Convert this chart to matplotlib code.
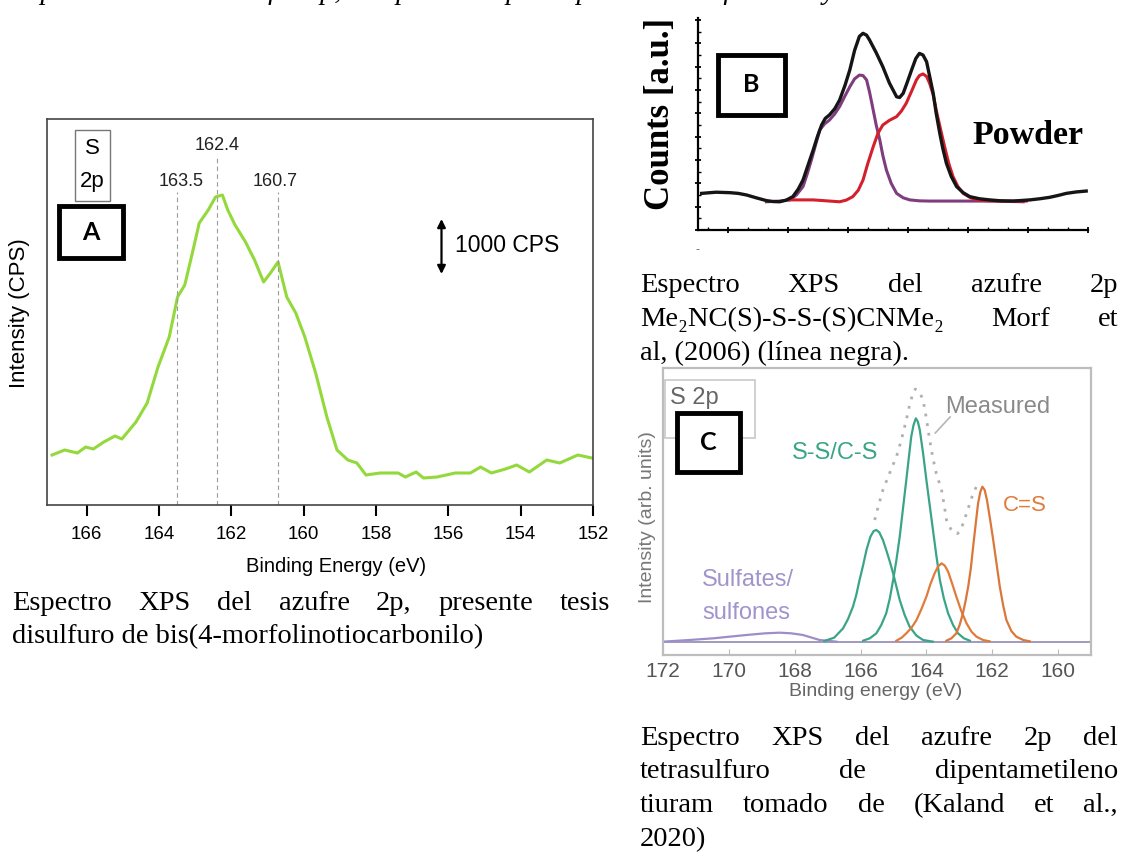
import matplotlib
matplotlib.use('Agg')
import matplotlib.pyplot as plt
from matplotlib.ticker import MultipleLocator
from matplotlib.patches import Rectangle

W, H = 1121, 852
SANS = ['Liberation Sans', 'DejaVu Sans']
SERIF = ['Liberation Serif', 'DejaVu Serif']
LABEL = ['Lato', 'DejaVu Sans']

# ---- panel A : presente tesis (green spectrum) ----
a_energy = [166.96, 166.61, 166.26, 166.03, 165.82, 165.53, 165.22, 165.03, 164.64, 164.33,
            164.03, 163.72, 163.49, 163.29, 163.08, 162.89, 162.64, 162.44, 162.25, 162.10,
            161.90, 161.61, 161.36, 161.11, 160.92, 160.71, 160.47, 160.22, 159.97, 159.67,
            159.36, 159.08, 158.78, 158.53, 158.28, 157.89, 157.39, 157.19, 156.89, 156.69,
            156.31, 155.81, 155.39, 155.11, 154.81, 154.42, 154.11, 153.76, 153.28, 152.92,
            152.42, 152.03]
a_counts = [900, 990, 936, 1044, 1008, 1134, 1242, 1188, 1494, 1836,
            2484, 3024, 3744, 3960, 4536, 5076, 5310, 5544, 5580, 5310,
            5040, 4734, 4410, 4014, 4176, 4374, 3744, 3456, 3024, 2376,
            1584, 990, 810, 756, 540, 576, 576, 504, 594, 486,
            504, 576, 576, 684, 576, 648, 720, 594, 810, 756,
            900, 846]
a_peaks = [163.5, 162.4, 160.7]
a_ticks = [166, 164, 162, 160, 158, 156, 154, 152]

# ---- panel B : Morf et al. 2006 ----
b_x_total = [-0.44, -0.2, 0.03, 0.17, 0.31, 0.47, 0.64, 0.75, 0.86, 0.97, 1.08, 1.17, 1.25, 1.33,
             1.42, 1.49, 1.56, 1.62, 1.69, 1.78, 1.86, 1.95, 2.03, 2.11, 2.19, 2.25, 2.31, 2.36,
             2.47, 2.58, 2.69, 2.81, 2.86, 2.92, 2.99, 3.06, 3.13, 3.19, 3.25, 3.31, 3.36, 3.42,
             3.47, 3.53, 3.58, 3.64, 3.72, 3.81, 3.92, 4.03, 4.19, 4.36, 4.55, 4.75, 5.03, 5.20,
             5.36, 5.50, 5.64, 5.80, 5.97]
b_y_total = [1.57, 1.62, 1.60, 1.57, 1.50, 1.38, 1.26, 1.22, 1.21, 1.28, 1.43, 1.75, 2.14, 2.75,
             3.43, 4.00, 4.50, 4.78, 4.93, 5.20, 5.57, 6.20, 6.86, 7.70, 8.30, 8.43, 8.35, 8.14,
             7.60, 7.00, 6.30, 5.71, 5.68, 5.86, 6.35, 6.86, 7.35, 7.57, 7.50, 7.21, 6.60, 5.86,
             5.00, 4.14, 3.50, 2.86, 2.30, 1.86, 1.60, 1.43, 1.34, 1.29, 1.25, 1.24, 1.29, 1.34,
             1.40, 1.48, 1.57, 1.63, 1.67]
b_x_left = [0.64, 0.86, 1.03, 1.14, 1.25, 1.32, 1.39, 1.46, 1.53, 1.61, 1.69, 1.78, 1.86, 1.94,
            2.03, 2.11, 2.19, 2.25, 2.31, 2.36, 2.42, 2.47, 2.53, 2.58, 2.64, 2.72, 2.81, 2.92,
            3.03, 3.19, 3.36, 3.92, 4.47, 4.92]
b_y_left = [1.21, 1.24, 1.29, 1.50, 1.86, 2.40, 3.00, 3.65, 4.29, 4.55, 4.71, 4.98, 5.29, 5.70,
            6.14, 6.48, 6.64, 6.62, 6.43, 5.90, 5.14, 4.50, 3.86, 3.20, 2.57, 2.00, 1.57, 1.38,
            1.29, 1.25, 1.24, 1.24, 1.24, 1.21]
b_x_right = [1.03, 1.42, 1.86, 1.97, 2.08, 2.17, 2.25, 2.33, 2.42, 2.50, 2.58, 2.69, 2.81, 2.89,
             2.97, 3.06, 3.14, 3.19, 3.25, 3.31, 3.36, 3.42, 3.47, 3.54, 3.61, 3.68, 3.75, 3.83,
             3.92, 4.03, 4.14, 4.30, 4.47, 4.97]
b_y_right = [1.29, 1.29, 1.21, 1.28, 1.43, 1.70, 2.14, 2.85, 3.57, 4.15, 4.50, 4.70, 4.86, 5.10,
             5.43, 5.95, 6.43, 6.62, 6.69, 6.58, 6.29, 5.80, 5.14, 4.35, 3.57, 2.85, 2.29, 1.87,
             1.57, 1.40, 1.29, 1.26, 1.24, 1.24]

# ---- panel C : Kaland et al. 2020 ----
c_ss1_e = [167.10, 166.80, 166.53, 166.38, 166.23, 166.13, 166.03, 165.92, 165.82, 165.70,
           165.60, 165.52, 165.43, 165.32, 165.22, 165.11, 165.01, 164.91, 164.81, 164.66,
           164.51, 164.30, 164.10, 163.80]
c_ss1_i = [0.02, 0.12, 0.40, 0.68, 1.05, 1.40, 1.85, 2.30, 2.75, 3.15,
           3.32, 3.35, 3.28, 3.05, 2.75, 2.40, 2.05, 1.65, 1.25, 0.80,
           0.45, 0.18, 0.05, 0.0]
c_ss2_e = [165.92, 165.72, 165.52, 165.37, 165.22, 165.11, 165.01, 164.91, 164.81, 164.71,
           164.61, 164.53, 164.46, 164.39, 164.32, 164.26, 164.20, 164.10, 164.00, 163.90,
           163.80, 163.70, 163.59, 163.47, 163.34, 163.19, 163.04, 162.86, 162.68]
c_ss2_i = [0.03, 0.10, 0.25, 0.50, 0.85, 1.30, 1.85, 2.45, 3.15, 4.00,
           4.85, 5.55, 6.15, 6.50, 6.70, 6.60, 6.35, 5.65, 4.85, 4.10,
           3.35, 2.60, 1.85, 1.30, 0.85, 0.50, 0.25, 0.10, 0.03]
c_cs1_e = [164.91, 164.75, 164.61, 164.45, 164.30, 164.15, 164.00, 163.88, 163.75, 163.65,
           163.54, 163.44, 163.34, 163.22, 163.09, 162.94, 162.78, 162.63, 162.48, 162.28, 162.08]
c_cs1_i = [0.03, 0.12, 0.25, 0.42, 0.65, 0.98, 1.35, 1.72, 2.05, 2.25,
           2.35, 2.28, 2.10, 1.75, 1.35, 0.92, 0.55, 0.30, 0.15, 0.05, 0.01]
c_cs2_e = [163.39, 163.24, 163.09, 162.99, 162.89, 162.81, 162.73, 162.65, 162.58, 162.50,
           162.43, 162.36, 162.30, 162.23, 162.16, 162.07, 161.97, 161.87, 161.77, 161.67,
           161.57, 161.42, 161.27, 161.06, 160.86]
c_cs2_i = [0.03, 0.10, 0.25, 0.50, 0.85, 1.22, 1.65, 2.20, 2.85, 3.55,
           4.15, 4.50, 4.65, 4.55, 4.25, 3.70, 3.05, 2.35, 1.65, 1.10,
           0.65, 0.32, 0.15, 0.05, 0.01]
c_sulf_e = [172.0, 171.2, 170.48, 169.47, 168.90, 168.46, 168.10, 167.75, 167.24, 166.73]
c_sulf_i = [0.0, 0.05, 0.10, 0.20, 0.25, 0.27, 0.25, 0.20, 0.05, 0.0]
c_meas_e = [165.57, 165.45, 165.32, 165.12, 164.91, 164.76, 164.61, 164.51, 164.41, 164.34,
            164.28, 164.19, 164.10, 164.00, 163.90, 163.80, 163.70, 163.62, 163.54, 163.46,
            163.39, 163.26, 163.14, 163.06, 162.99, 162.88, 162.78, 162.68, 162.58, 162.48,
            162.38]
c_meas_i = [3.65, 4.10, 4.55, 5.05, 5.55, 6.05, 6.65, 7.10, 7.45, 7.58,
            7.55, 7.45, 7.25, 6.70, 6.05, 5.50, 5.05, 4.80, 4.55, 4.10,
            3.65, 3.38, 3.25, 3.24, 3.30, 3.55, 3.85, 4.15, 4.45, 4.65,
            4.75]
c_ticks = [172, 170, 168, 166, 164, 162, 160]


def fx(px):
    return px / W


def fy(py):
    return 1 - py / H


def box(x0, y0, x1, y1):
    return [fx(x0), fy(y1), (x1 - x0) / W, (y1 - y0) / H]


fig = plt.figure(figsize=(W / 100, H / 100), dpi=100)
renderer = fig.canvas.get_renderer()

# ================= panel A =================
axA = fig.add_axes(box(47, 119, 593, 505))
axA.plot(a_energy, a_counts, color='#93d93c', lw=2.2)
for e, top in zip(a_peaks, [5634, 6282, 5634]):
    axA.plot([e, e], [0, top], color='#9a9a9a', lw=0.8, ls=(0, (4, 3)))
axA.text(163.39, 5814, '163.5', family=SANS, fontsize=13, ha='center', va='center', color='#222')
axA.text(162.4, 6462, '162.4', family=SANS, fontsize=13, ha='center', va='center', color='#222')
axA.text(160.8, 5814, '160.7', family=SANS, fontsize=13, ha='center', va='center', color='#222')
axA.annotate('', xy=(156.19, 4158), xytext=(156.19, 5148),
             arrowprops=dict(arrowstyle='<|-|>', color='black', lw=1.6,
                             mutation_scale=12, shrinkA=0, shrinkB=0))
axA.text(155.83, 4680, '1000 CPS', family=SANS, fontsize=16.5, ha='left', va='center')
axA.set_xlim(167.1, 152)
axA.set_ylim(0, 6948)
axA.set_xticks(a_ticks)
axA.set_yticks([])
axA.tick_params(axis='x', direction='out', length=8, width=1.5, labelsize=13.5, pad=7)
for lab in axA.get_xticklabels():
    lab.set_family(SANS)
for s in axA.spines.values():
    s.set_color('#444')
    s.set_linewidth(1.2)
fig.text(fx(336), fy(567), 'Binding Energy (eV)', family=SANS, fontsize=14.5, ha='center', va='center')
fig.text(fx(20), fy(313), 'Intensity (CPS)', family=SANS, fontsize=16, ha='center', va='center',
         rotation=90)
# S 2p box
fig.patches.append(Rectangle((fx(75), fy(201)), 35 / W, 71 / H, transform=fig.transFigure,
                             fill=False, ec='#777', lw=1))
fig.text(fx(92.5), fy(148), 'S', family=SANS, fontsize=16, ha='center', va='center')
fig.text(fx(92.5), fy(182), '2p', family=SANS, fontsize=16, ha='center', va='center')

# ================= panel B =================
axB = fig.add_axes(box(698, 17.7, 1088, 230))
axB.plot(b_x_left, b_y_left, color='#7f3d7d', lw=2.2, solid_joinstyle='round')
axB.plot(b_x_right, b_y_right, color='#d3202c', lw=2.2, solid_joinstyle='round')
axB.plot(b_x_total, b_y_total, color='#151515', lw=2.4, solid_joinstyle='round')
axB.set_xlim(-0.5, 6.0)
axB.set_ylim(0, 9.1)
axB.spines['top'].set_visible(False)
axB.spines['right'].set_visible(False)
for s in ['left', 'bottom']:
    axB.spines[s].set_linewidth(1.6)
axB.xaxis.set_major_locator(MultipleLocator(1))
axB.xaxis.set_minor_locator(MultipleLocator(1 / 3))
axB.yaxis.set_major_locator(MultipleLocator(1))
axB.yaxis.set_minor_locator(MultipleLocator(0.5))
axB.tick_params(which='major', direction='inout', length=5, width=1.3,
                labelbottom=False, labelleft=False)
axB.tick_params(which='minor', direction='in', length=2.5, width=1)
fig.text(fx(660), fy(114), 'Counts [a.u.]', family=SERIF, fontsize=25, fontweight='bold',
         rotation=90, ha='center', va='center')
fig.text(fx(1028), fy(135), 'Powder', family=SERIF, fontsize=24.5, fontweight='bold',
         ha='center', va='center')
fig.text(fx(697), fy(250), '-', family=SANS, fontsize=9, ha='center', va='center', color='#666')

# ================= panel C =================
axC = fig.add_axes(box(663, 368, 1091, 655))
axC.axhline(0, color='#9a92b8', lw=1.3)
axC.plot(c_sulf_e, c_sulf_i, color='#9d8ec9', lw=1.6)
axC.plot(c_ss1_e, c_ss1_i, color='#3aa586', lw=1.6)
axC.plot(c_ss2_e, c_ss2_i, color='#3aa586', lw=1.6)
axC.plot(c_cs1_e, c_cs1_i, color='#e07b39', lw=1.6)
axC.plot(c_cs2_e, c_cs2_i, color='#d9783a', lw=1.6)
axC.plot(c_meas_e, c_meas_i, color='#b0b0b0', lw=2.0, ls=(0, (1, 2.5)))
axC.plot([163.73, 163.28], [6.26, 6.74], color='#b5b5b5', lw=1.2)
axC.text(163.43, 7.04, 'Measured', family=SANS, fontsize=17, color='#8a8a8a', ha='left', va='center')
axC.text(166.77, 5.66, 'S-S/C-S', family=SANS, fontsize=17, color='#3aa586', ha='center', va='center')
axC.text(161.0, 4.10, 'C=S', family=SANS, fontsize=16, color='#e07b39', ha='center', va='center')
axC.text(170.81, 1.85, 'Sulfates/', family=SANS, fontsize=17, color='#a194cc', ha='left', va='center')
axC.text(170.81, 0.86, 'sulfones', family=SANS, fontsize=17, color='#a194cc', ha='left', va='center')
axC.set_xlim(172, 159)
axC.set_ylim(-0.4, 8.21)
axC.set_xticks(c_ticks)
axC.set_yticks([])
axC.tick_params(axis='x', direction='in', length=4, color='#bbb', labelsize=15,
                labelcolor='#555', pad=5)
for lab in axC.get_xticklabels():
    lab.set_family(SANS)
for s in axC.spines.values():
    s.set_color('#bdbdbd')
    s.set_linewidth(1.6)
fig.text(fx(876), fy(692), 'Binding energy (eV)', family=SANS, fontsize=14, color='#666',
         ha='center', va='center')
fig.text(fx(648), fy(517), 'Intensity (arb. units)', family=SANS, fontsize=14, color='#777',
         rotation=90, ha='center', va='center')
fig.patches.append(Rectangle((fx(665), fy(438)), 90 / W, 58 / H, transform=fig.transFigure,
                             fill=False, ec='#c8c8c8', lw=1.2))
fig.text(fx(670), fy(398), 'S 2p', family=SANS, fontsize=17, color='#666', ha='left', va='center')

# ================= panel letters =================
for (x0, y0, x1, y1), letter in [((59, 206, 123, 258), 'A'), ((718, 55, 785, 115), 'B'),
                                 ((677, 413, 740, 472), 'C')]:
    fig.patches.append(Rectangle((fx(x0), fy(y1)), (x1 - x0) / W, (y1 - y0) / H,
                                 transform=fig.transFigure, fc='white', ec='black', lw=3.5,
                                 zorder=5))
    fig.text(fx((x0 + x1) / 2), fy((y0 + y1) / 2), letter, family=LABEL, fontsize=18,
             fontweight='bold', ha='center', va='center', zorder=6)


# ================= captions =================
def justify(words, x0, x1, ybase, size=20.5):
    ts = [fig.text(fx(x0), fy(ybase), w, family=SERIF, fontsize=size, va='baseline')
          for w in words]
    ws = [t.get_window_extent(renderer).width for t in ts]
    gap = (x1 - x0 - sum(ws)) / (len(ws) - 1)
    x = x0
    for t, w in zip(ts, ws):
        t.set_x(fx(x))
        x += w + gap


def plain(text, x0, ybase, size=20.5):
    fig.text(fx(x0), fy(ybase), text, family=SERIF, fontsize=size, va='baseline')


fig.text(fx(12), fy(-1), 'Espectros XPS del azufre 2p, comparación por espectros de referencia y',
         family=SERIF, fontsize=20.5, style='italic', va='baseline')

justify('Espectro XPS del azufre 2p, presente tesis'.split(), 12, 610, 610)
plain('disulfuro de bis(4-morfolinotiocarbonilo)', 12, 643)

justify('Espectro XPS del azufre 2p'.split(), 640, 1118, 292)
justify(['Me\u2082NC(S)-S-S-(S)CNMe\u2082', 'Morf', 'et'], 640, 1118, 326)
plain('al, (2006) (línea negra).', 640, 360)

justify('Espectro XPS del azufre 2p del'.split(), 640, 1118, 745)
justify('tetrasulfuro de dipentametileno'.split(), 640, 1118, 778)
justify('tiuram tomado de (Kaland et al.,'.split(), 640, 1118, 812)
plain('2020)', 640, 846)

fig.savefig('out.png', dpi=100)
